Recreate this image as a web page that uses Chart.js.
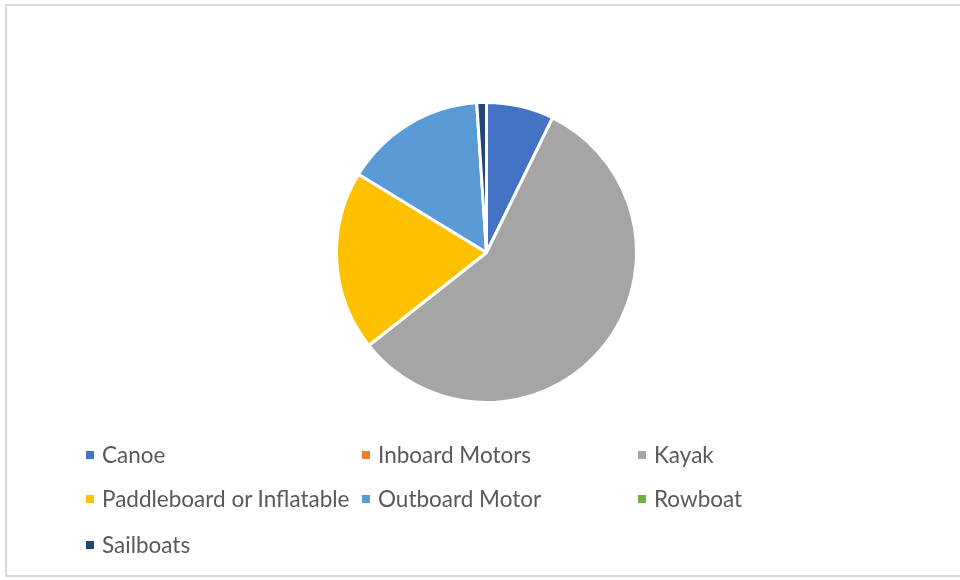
<!DOCTYPE html>
<html>
<head>
<meta charset="utf-8">
<script src="https://cdn.jsdelivr.net/npm/chart.js@4/dist/chart.umd.min.js"></script>
<style>
  html, body { margin: 0; padding: 0; background: #ffffff; width: 960px; height: 580px; overflow: hidden; }
  #frame { position: absolute; left: 5px; top: 4px; width: 960px; height: 573px; border: 2px solid #d9d9d9; border-right: none; box-sizing: border-box; }
  #pieBox { position: absolute; left: 335px; top: 101px; width: 303px; height: 303px; }
  #legend { position: absolute; left: 0; top: 0; width: 960px; height: 580px; pointer-events: none; }
  .item { position: absolute; font-family: Lato, "Liberation Sans", sans-serif; font-size: 22.5px; color: #595959; white-space: nowrap; line-height: 26px; }
  .sw { position: absolute; width: 8px; height: 8px; top: 9px; left: 0; }
  .tx { position: absolute; left: 16px; top: 0; }
</style>
</head>
<body>
<div id="frame"></div>
<div id="pieBox"><canvas id="c"></canvas></div>
<div id="legend"></div>
<script>
const categories = ["Canoe", "Inboard Motors", "Kayak", "Paddleboard or Inflatable", "Outboard Motor", "Rowboat", "Sailboats"];
const counts = [21, 0, 165, 56, 44, 0, 3];
const sliceColors = ["#4472C4", "#ED7D31", "#A5A5A5", "#FFC000", "#5B9BD5", "#70AD47", "#264478"];

new Chart(document.getElementById('c'), {
  type: 'pie',
  data: {
    labels: categories,
    datasets: [{
      data: counts,
      backgroundColor: sliceColors,
      borderColor: '#ffffff',
      borderWidth: 3,
      hoverBorderWidth: 3,
      offset: 0,
      hoverOffset: 0
    }]
  },
  options: {
    responsive: true,
    maintainAspectRatio: false,
    animation: false,
    events: [],
    layout: { padding: 0 },
    plugins: { legend: { display: false }, tooltip: { enabled: false } }
  }
});

// legend (grid layout like the original)
const legendCols = [86, 362, 638];
const legendRows = [442, 486, 532];
const lg = document.getElementById('legend');
categories.forEach((name, i) => {
  const d = document.createElement('div');
  d.className = 'item';
  d.style.left = legendCols[i % 3] + 'px';
  d.style.top = legendRows[Math.floor(i / 3)] + 'px';
  const sw = document.createElement('div');
  sw.className = 'sw';
  sw.style.background = sliceColors[i];
  const tx = document.createElement('span');
  tx.className = 'tx';
  tx.textContent = name;
  d.appendChild(sw);
  d.appendChild(tx);
  lg.appendChild(d);
});
</script>
</body>
</html>
